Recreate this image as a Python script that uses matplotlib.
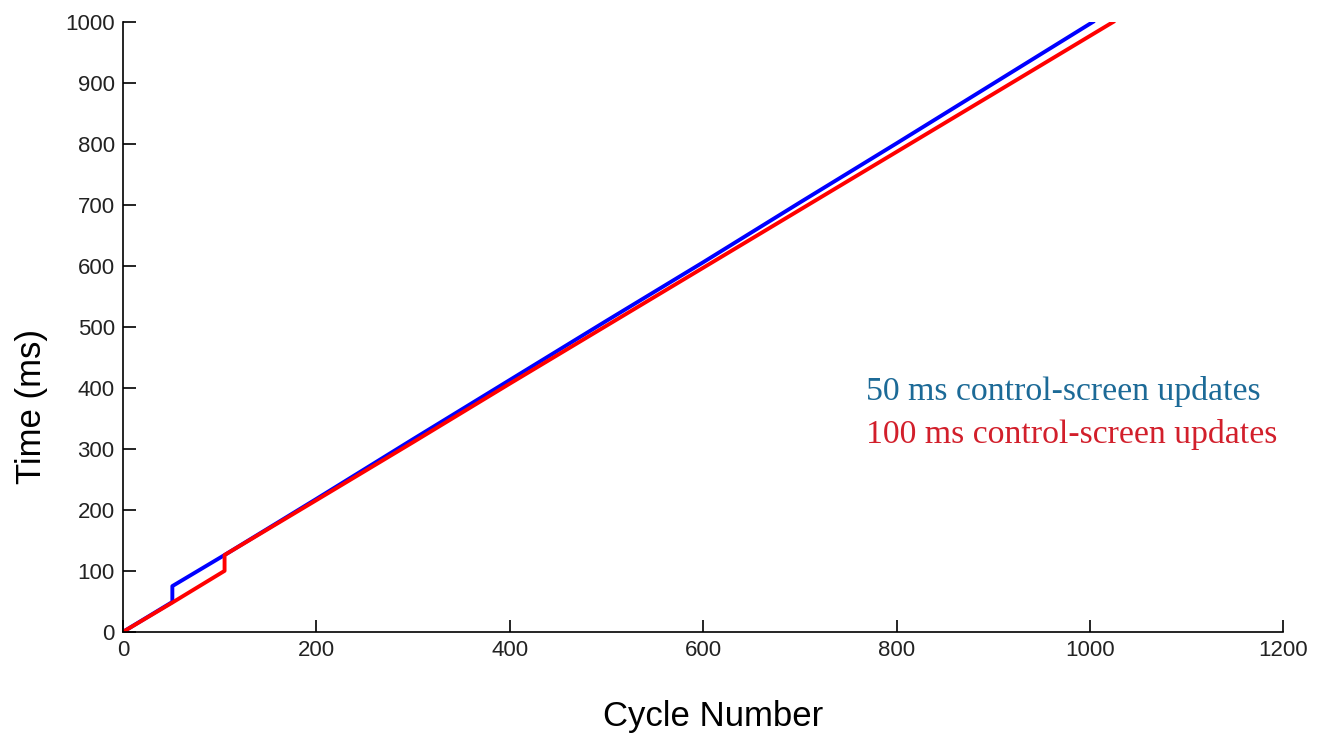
import matplotlib.pyplot as plt

# Cycle number vs. elapsed time.
cycles_50 = [0, 51, 51, 105, 200, 300, 400, 500, 600, 700, 800, 900, 1003]
time_50 = [0, 49, 75, 126, 218, 316, 413, 510, 606, 704, 801, 899, 1000]

cycles_100 = [0, 51, 105, 105, 200, 300, 400, 500, 600, 700, 800, 900, 1024]
time_100 = [0, 48, 100, 126, 216, 311, 407, 502, 597, 692, 787, 882, 1000]

labels = ["50 ms control-screen updates", "100 ms control-screen updates"]
x_ticks = [0, 200, 400, 600, 800, 1000, 1200]
y_ticks = [0, 100, 200, 300, 400, 500, 600, 700, 800, 900, 1000]

plt.rcParams["font.family"] = ["Liberation Sans", "DejaVu Sans"]

fig = plt.figure(figsize=(13.23, 7.33), dpi=100)
ax = fig.add_axes([0.093, 0.138, 0.877, 0.832])

ax.plot(cycles_50, time_50, color="#0000ff", lw=2.8)
ax.plot(cycles_100, time_100, color="#ff0000", lw=2.8)

ax.set_xlim(0, 1200)
ax.set_ylim(0, 1000)
ax.set_xticks(x_ticks)
ax.set_yticks(y_ticks)
ax.spines["top"].set_visible(False)
ax.spines["right"].set_visible(False)
ax.tick_params(direction="in", length=9, width=1.2, labelsize=16, pad=6,
               labelcolor="#222222")
for side in ["left", "bottom"]:
    ax.spines[side].set_linewidth(1.2)

fig.text(0.024, 0.446, "Time (ms)", rotation=90, fontsize=25,
         ha="center", va="center")
fig.text(0.539, 0.022, "Cycle Number", fontsize=25, ha="center", va="center")

# .. Inline legend in a serif face, as in the source.
fig.text(0.6546, 0.4543, labels[0], color="#1c6a97", fontsize=24.3,
         family="Liberation Serif", va="baseline")
fig.text(0.6546, 0.3956, labels[1], color="#d21f2b", fontsize=24.3,
         family="Liberation Serif", va="baseline")

fig.savefig("out.png", dpi=100)
